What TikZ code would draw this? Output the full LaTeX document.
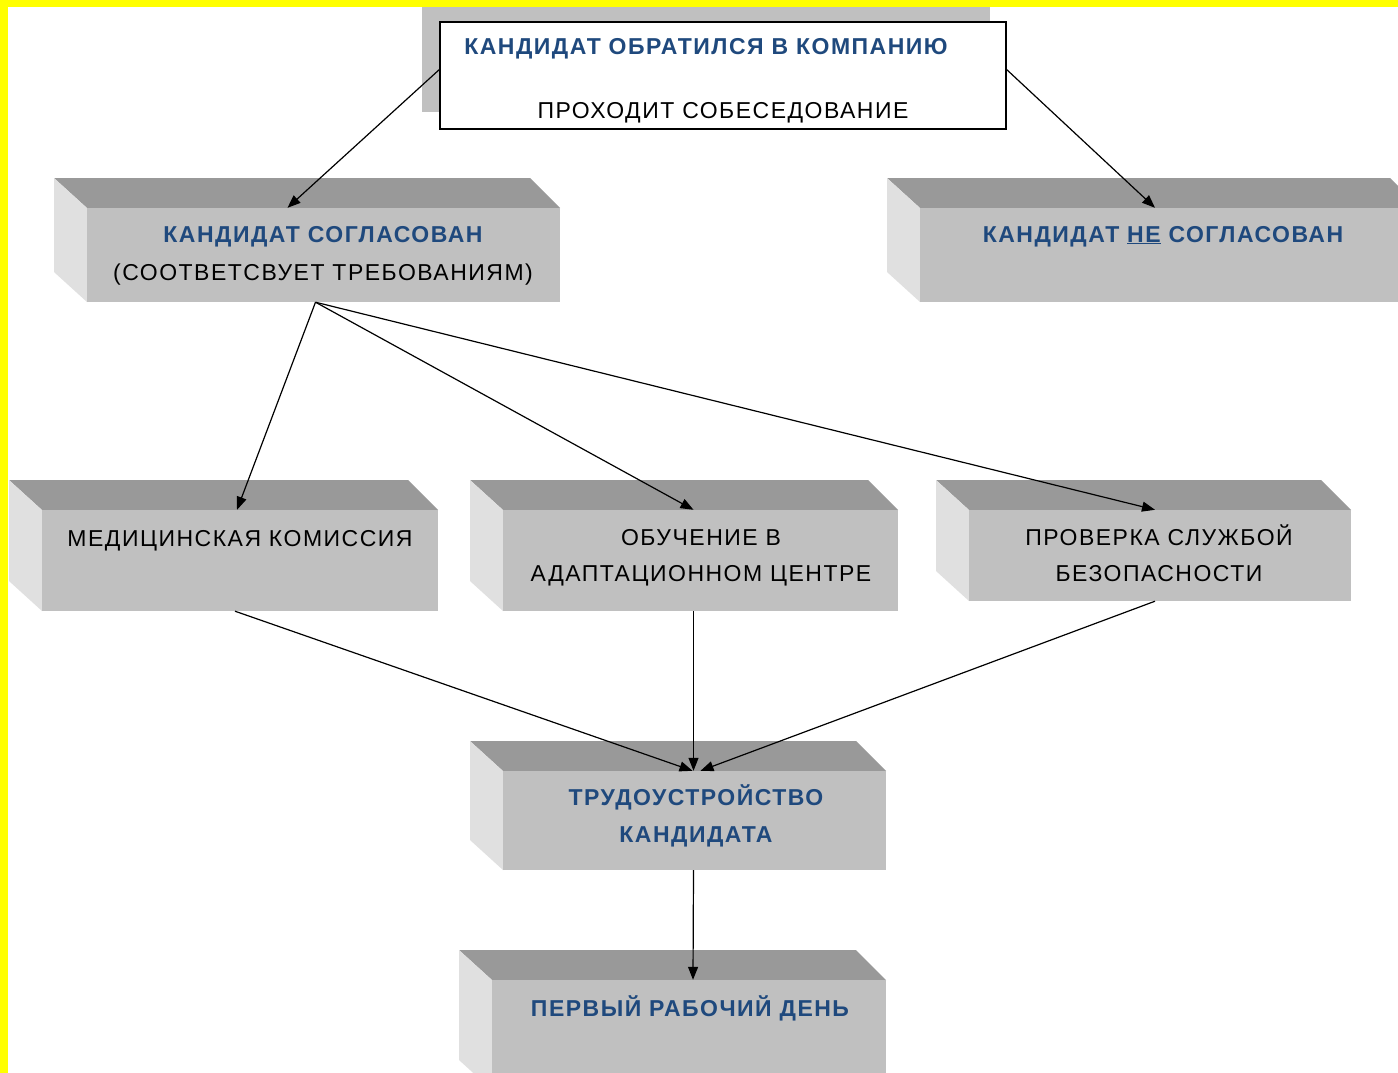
\documentclass[tikz,border=0pt]{standalone}
\usepackage{fontspec}
\setmainfont{Liberation Sans}
\newfontfamily\spacedfont[LetterSpace=6.5]{Liberation Sans}
\usetikzlibrary{arrows.meta}
\definecolor{topface}{HTML}{999999}
\definecolor{sideface}{HTML}{E0E0E0}
\definecolor{frontface}{HTML}{C0C0C0}
\definecolor{hdblue}{RGB}{31,73,125}
\definecolor{frame}{HTML}{FFFF00}
\tikzset{
  frontbox/.style={fill=frontface, draw=none, inner sep=0pt},
  hd/.style={font=\spacedfont\fontsize{23}{26}\selectfont\bfseries, text=hdblue, inner sep=0pt, anchor=base},
  tx/.style={font=\spacedfont\fontsize{23}{26}\selectfont, text=black, inner sep=0pt, anchor=base},
  arr/.style={line width=1.2pt, -{Triangle[length=13pt,width=10pt]}}
}
\newcommand\slab[5]{%
  \fill[topface] (#2-33,#3-30) -- (#2+#4-30,#3-30) -- (#2+#4,#3) -- (#2,#3) -- cycle;
  \fill[sideface] (#2-33,#3-30) -- (#2,#3) -- (#2,#3+#5) -- (#2-33,#3+#5-30) -- cycle;
  \node[frontbox, minimum width=#4pt, minimum height=#5pt] (#1) at (#2+#4/2,#3+#5/2) {};
}
\begin{document}
\begin{tikzpicture}[x=1pt,y=-1pt]
\useasboundingbox (0,0) rectangle (1398,1073);
\clip (0,0) rectangle (1398,1073);
\fill[white] (0,0) rectangle (1398,1073);
% top box
\fill[frontface] (422,0) rectangle (990,112);
\node[draw=black, line width=1.2pt, fill=white, minimum width=566pt, minimum height=107pt, inner sep=0pt] (top) at (723,75.5) {};
\node[hd] (t0a) at (706,55) {КАНДИДАТ ОБРАТИЛСЯ В КОМПАНИЮ};
\node[tx] (t0b) at (723,118) {ПРОХОДИТ СОБЕСЕДОВАНИЕ};
% slabs
\slab{b1}{87}{208}{473}{94}
\slab{b2}{920}{208}{500}{94}
\slab{b3}{42}{510}{396}{101}
\slab{b4}{503}{510}{395}{101}
\slab{b5}{969}{510}{382}{91}
\slab{b6}{503}{771}{383}{99}
\slab{b7}{492}{980}{394}{110}
% texts
\node[hd] (t1a) at (323,242) {КАНДИДАТ СОГЛАСОВАН};
\node[tx] (t1b) at (323,280) {(СООТВЕТСВУЕТ ТРЕБОВАНИЯМ)};
\node[hd] (t2) at (1163,242) {КАНДИДАТ \underline{НЕ} СОГЛАСОВАН};
\node[tx] (t3) at (240,546) {МЕДИЦИНСКАЯ КОМИССИЯ};
\node[tx] (t4a) at (701,545) {ОБУЧЕНИЕ В};
\node[tx] (t4b) at (701,581) {АДАПТАЦИОННОМ ЦЕНТРЕ};
\node[tx] (t5a) at (1159,545) {ПРОВЕРКА СЛУЖБОЙ};
\node[tx] (t5b) at (1159,581) {БЕЗОПАСНОСТИ};
\node[hd] (t6a) at (696,805) {ТРУДОУСТРОЙСТВО};
\node[hd] (t6b) at (696,842) {КАНДИДАТА};
\node[hd] (t7) at (690,1016) {ПЕРВЫЙ РАБОЧИЙ ДЕНЬ};
% arrows
\draw[arr] ([yshift=6pt]top.west) -- ([xshift=-36pt]b1.north);
\draw[arr] ([yshift=6pt]top.east) -- ([xshift=-15pt]b2.north);
\draw[arr] ([xshift=-8pt]b1.south) -- ([xshift=-3pt]b3.north);
\draw[arr] ([xshift=-8pt]b1.south) -- ([xshift=-7pt]b4.north);
\draw[arr] ([xshift=-8pt]b1.south) -- ([xshift=-5pt]b5.north);
\draw[arr] ([xshift=-5pt]b3.south) -- ([xshift=-2pt]b6.north);
\draw[arr] ([xshift=-7pt]b4.south) -- ([xshift=-1pt]b6.north);
\draw[arr] ([xshift=-5pt]b5.south) -- ([xshift=6pt]b6.north);
\draw[arr] ([xshift=-1pt]b6.south) -- ([xshift=4pt]b7.north);
% yellow frame
\fill[frame] (0,0) rectangle (8,1073);
\fill[frame] (0,0) rectangle (1398,7);
\end{tikzpicture}
\end{document}
